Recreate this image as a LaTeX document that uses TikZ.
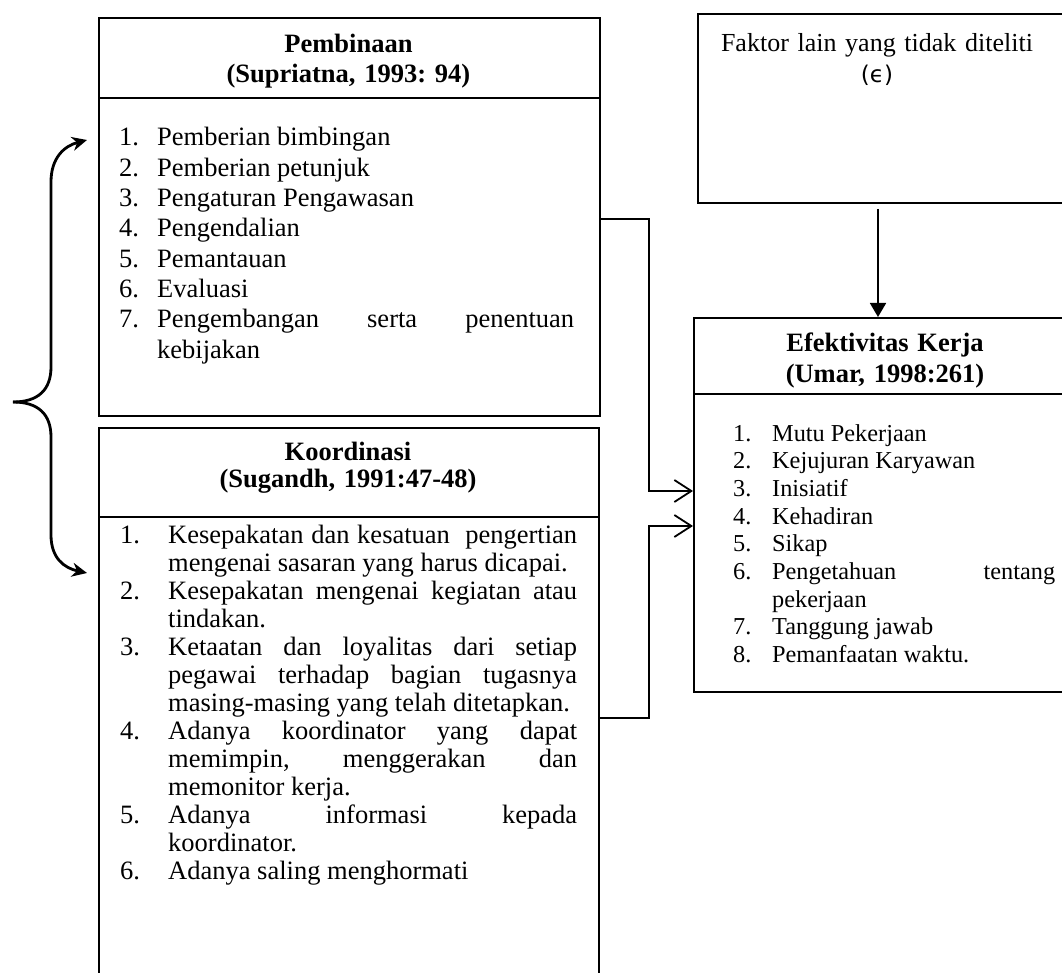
\documentclass[tikz,border=0pt]{standalone}
\usepackage{fontspec}
\setmainfont{Liberation Serif}
\newfontfamily\epsfont{DejaVu Sans}
\usetikzlibrary{arrows.meta, positioning, calc}
\frenchspacing
\newlength{\itmind}
\newcommand{\itm}[2]{\hangindent=\itmind\hangafter=1\noindent\makebox[\itmind][l]{#1}#2\par}
\tikzset{
	box/.style       ={rectangle, draw=black, line width=1.8pt, inner sep=0pt, anchor=north west},
	title/.style     ={anchor=base, text width=460pt, align=center, inner sep=0pt, font=\fontsize{26.5}{#1}\selectfont\bfseries},
	title/.default=30,
	list/.style      ={anchor=base west, align=justify, inner sep=0pt},
	% connector styles
	flowarrow/.style ={-{Straight Barb[length=17pt, width=22pt]}, line width=1.8pt},
	downarrow/.style ={-{Triangle[length=14pt, width=16pt]}, line width=1.8pt},
	bracearrow/.style={-{Stealth[length=15pt, width=14pt]}, line width=2.8pt},
}

\begin{document}
\begin{tikzpicture}[x=1pt, y=-1pt]
	\useasboundingbox (0,0) rectangle (1062,973);
	\clip (0,0) rectangle (1062,973);
	% boxes
	\node[box, minimum width=501pt, minimum height=80pt] (pbHead) at (98,17) {};
	\node[box, minimum width=501pt, minimum height=318pt] (pbBody) at (98,97) {};
	\node[box, minimum width=500pt, minimum height=89pt] (koHead) at (98,427) {};
	\node[box, minimum width=500pt, minimum height=500pt] (koBody) at (98,516) {};
	\node[box, minimum width=380pt, minimum height=189pt] (fk) at (697,13) {};
	\node[box, minimum width=384pt, minimum height=76pt] (efHead) at (693,317) {};
	\node[box, minimum width=384pt, minimum height=298pt] (efBody) at (693,393) {};
	% texts
	\node[title] (pbTitle) at (348.5,53) {Pembinaan\\(Supriatna, 1993: 94)};
	\node[title=27.5] (koTitle) at (348,460) {Koordinasi\\(Sugandh, 1991:47-48)};
	\node[title] (efTitle) at (885,352) {Efektivitas Kerja\\(Umar, 1998:261)};
	\node[anchor=base, text width=360pt, align=center, inner sep=0pt, font=\fontsize{26}{31}\selectfont] (fkText) at (877,52)
		{Faktor lain yang tidak diteliti\\{\epsfont\fontsize{23}{31}\selectfont(ϵ)}};
	\node[list, text width=455pt, font=\fontsize{26.5}{30.3}\selectfont] (pbList) at (119,146) {\setlength{\itmind}{38pt}%
		\itm{1.}{Pemberian bimbingan}
		\itm{2.}{Pemberian petunjuk}
		\itm{3.}{Pengaturan Pengawasan}
		\itm{4.}{Pengendalian}
		\itm{5.}{Pemantauan}
		\itm{6.}{Evaluasi}
		\itm{7.}{Pengembangan serta penentuan\linebreak kebijakan}};
	\node[list, text width=457pt, font=\fontsize{26.5}{28}\selectfont] (koList) at (120,543) {\setlength{\itmind}{48pt}%
		\itm{1.}{Kesepakatan dan kesatuan\ \ pengertian\linebreak mengenai sasaran yang harus dicapai.}
		\itm{2.}{Kesepakatan mengenai kegiatan atau\linebreak tindakan.}
		\itm{3.}{Ketaatan dan loyalitas dari setiap\linebreak pegawai terhadap bagian tugasnya\linebreak masing-masing yang telah ditetapkan.}
		\itm{4.}{Adanya koordinator yang dapat\linebreak memimpin, menggerakan dan\linebreak memonitor kerja.}
		\itm{5.}{Adanya informasi kepada\linebreak koordinator.}
		\itm{6.}{Adanya saling menghormati}};
	\node[list, text width=322pt, font=\fontsize{24.3}{27.7}\selectfont] (efList) at (733,441) {\setlength{\itmind}{39pt}%
		\itm{1.}{Mutu Pekerjaan}
		\itm{2.}{Kejujuran Karyawan}
		\itm{3.}{Inisiatif}
		\itm{4.}{Kehadiran}
		\itm{5.}{Sikap}
		\itm{6.}{Pengetahuan tentang\linebreak pekerjaan}
		\itm{7.}{Tanggung jawab}
		\itm{8.}{Pemanfaatan waktu.}};
	% connectors
	\draw[flowarrow] ([yshift=-122pt]pbBody.north east) -- ++(48,0) |- ([yshift=-98pt]efBody.north west);
	\draw[flowarrow] ([yshift=-202pt]koBody.north east) -- ++(49,0) |- ([yshift=-133pt]efBody.north west);
	\coordinate (fkDrop) at ([shift={(181pt,-5pt)}]fk.south west);
	\draw[downarrow] (fkDrop) -- (fkDrop |- efHead.north);
	% brace
	\coordinate (brTip) at (13,402);
	\draw[bracearrow] (brTip) .. controls (38,402) and (51,390) .. (51,367) -- (51,182)
		.. controls (51,158) and (64,146) .. ([shift={(-11pt,-43pt)}]pbBody.north west);
	\draw[bracearrow] (brTip) .. controls (38,402) and (51,414) .. (51,437) -- (51,535)
		.. controls (51,558) and (64,568) .. ([shift={(-11pt,-57pt)}]koBody.north west);
\end{tikzpicture}
\end{document}
